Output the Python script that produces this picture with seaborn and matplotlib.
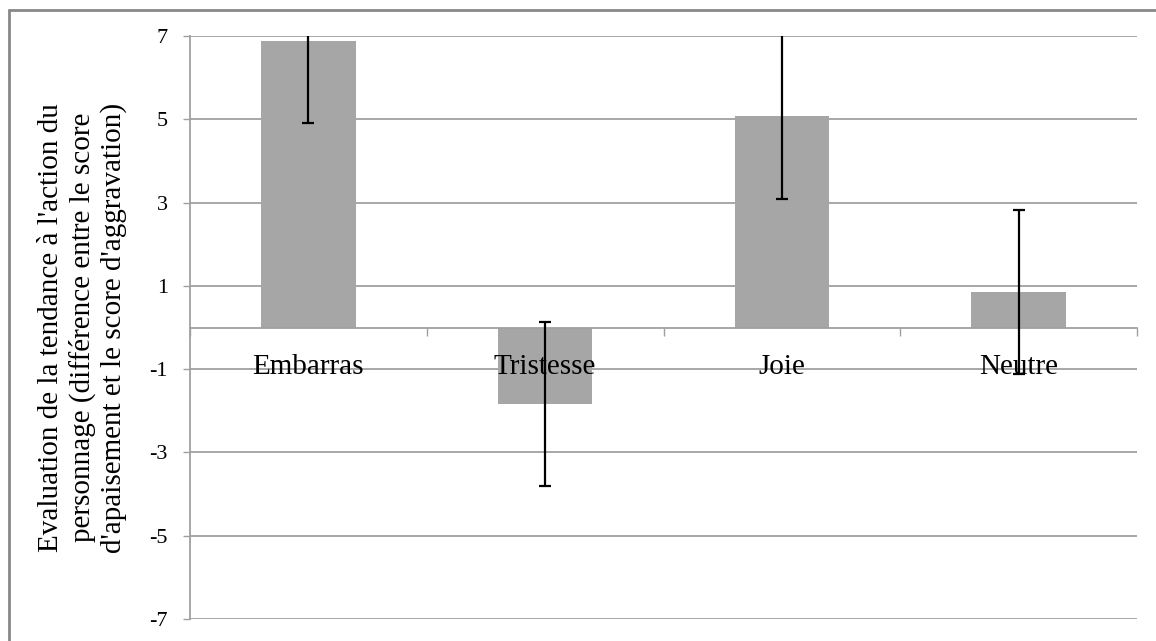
import matplotlib
matplotlib.use("Agg")
import matplotlib.pyplot as plt
from matplotlib.lines import Line2D
from matplotlib.ticker import FixedLocator
import seaborn as sns
import pandas as pd

categories = ["Embarras", "Tristesse", "Joie", "Neutre"]
means = [6.89, -1.84, 5.08, 0.85]
errors = [1.97, 1.97, 1.99, 1.97]
yticks = [-7, -5, -3, -1, 1, 3, 5, 7]
ylabel = ("Evaluation de la tendance à l'action du\n"
          "personnage (différence entre le score\n"
          "d'apaisement et le score d'aggravation)")

sns.set_theme(style="white")
plt.rcParams["font.family"] = ["Liberation Serif", "DejaVu Serif"]

df = pd.DataFrame({"cat": categories, "val": means})

fig = plt.figure(figsize=(11.56, 6.41), dpi=100)
ax = fig.add_axes([190/1156, 1-619/641, (1137-190)/1156, (619-36)/641])

grid_c = "#A0A0A0"
ax.set_axisbelow(True)
ax.yaxis.grid(True, color=grid_c, linewidth=1.3)
ax.xaxis.grid(False)

sns.barplot(data=df, x="cat", y="val", color="#A6A6A6", width=0.4,
            errorbar=None, saturation=1, ax=ax, zorder=2, linewidth=0)
ax.errorbar(range(len(categories)), means, yerr=errors, fmt="none",
            ecolor="black", elinewidth=1.6, capsize=4, capthick=1.6,
            zorder=6, clip_on=True)

ax.set_ylim(-7, 7)
ax.set_xlim(-0.5, len(categories) - 0.5)

ax.spines["bottom"].set_position(("data", 0))
for s in ["top", "right"]:
    ax.spines[s].set_visible(False)
for s in ["left", "bottom"]:
    ax.spines[s].set_color(grid_c)
    ax.spines[s].set_linewidth(1.3)

ax.set_yticks(yticks)
ax.set_yticklabels([str(t) for t in yticks])
ax.tick_params(axis="y", length=5, width=1, color=grid_c, pad=11, left=True,
               direction="out", labelsize=16, labelcolor="black")

ax.set_xticks(range(len(categories)))
ax.set_xticklabels(categories)
ax.tick_params(axis="x", which="major", length=0, pad=19, bottom=True,
               labelsize=21, labelcolor="black")
ax.xaxis.set_minor_locator(FixedLocator([i - 0.5 for i in range(len(categories) + 1)]))
ax.tick_params(axis="x", which="minor", length=6, width=1, color=grid_c,
               direction="out", bottom=True)
ax.xaxis.set_zorder(4)

ax.set_xlabel("")
ax.set_ylabel(ylabel, fontsize=21, linespacing=1.2, labelpad=16, color="black")

# outer chart border (top and left visible)
bc = "#888888"
fig.add_artist(Line2D([9/1156, 9/1156], [1-10/641, -0.05], color=bc, lw=2, transform=fig.transFigure))
fig.add_artist(Line2D([9/1156, 1.05], [1-10/641, 1-10/641], color=bc, lw=2, transform=fig.transFigure))

fig.savefig("out.png", dpi=100)
